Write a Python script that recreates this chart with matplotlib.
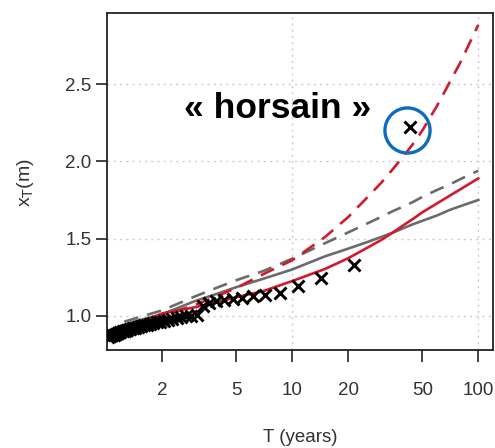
import matplotlib
matplotlib.use("Agg")
import matplotlib.pyplot as plt
import matplotlib.transforms as mtransforms

# ---- data ----
obs_T = [42.8, 21.5, 14.3, 10.75, 8.6, 7.17, 6.14, 5.38, 4.78, 4.3, 3.91, 3.58,
         3.31, 3.07, 2.87, 2.69, 2.53, 2.39, 2.26, 2.15, 2.05, 1.95, 1.87, 1.79,
         1.72, 1.65, 1.59, 1.54, 1.48, 1.43, 1.39, 1.34, 1.30, 1.26, 1.23, 1.19,
         1.16, 1.13, 1.10, 1.075, 1.05, 1.024]
obs_x = [2.22, 1.33, 1.245, 1.19, 1.148, 1.134, 1.125, 1.117, 1.11, 1.104, 1.097, 1.085,
         1.06, 1.005, 1.0, 0.998, 0.995, 0.985, 0.978, 0.972, 0.967, 0.962, 0.957, 0.952,
         0.947, 0.942, 0.937, 0.933, 0.928, 0.923, 0.918, 0.913, 0.908, 0.903, 0.898, 0.893,
         0.888, 0.883, 0.878, 0.873, 0.868, 0.86]

curve_T = [1.01, 1.2, 1.5, 2, 3, 4, 5, 7, 10, 15, 20, 25, 30, 35, 40, 45, 50, 60, 70, 80, 100]
red_dashed = [0.86, 0.91, 0.95, 1.00, 1.07, 1.13, 1.18, 1.27, 1.36, 1.51, 1.64, 1.76, 1.86,
              1.955, 2.04, 2.12, 2.20, 2.36, 2.51, 2.64, 2.885]
red_solid = [0.86, 0.91, 0.95, 1.015, 1.055, 1.09, 1.12, 1.16, 1.225, 1.303, 1.373, 1.437, 1.49,
             1.542, 1.59, 1.631, 1.67, 1.728, 1.777, 1.819, 1.89]
grey_dashed = [0.86, 0.955, 0.99, 1.035, 1.125, 1.185, 1.23, 1.29, 1.37, 1.47, 1.54, 1.595,
               1.64, 1.68, 1.71, 1.74, 1.77, 1.815, 1.85, 1.885, 1.94]
grey_solid = [0.87, 0.935, 0.97, 1.01, 1.095, 1.145, 1.185, 1.24, 1.30, 1.385, 1.435, 1.475,
              1.51, 1.54, 1.57, 1.595, 1.615, 1.65, 1.685, 1.71, 1.75]

x_ticks = [2, 5, 10, 20, 50, 100]
x_tick_labels = ["2", "5", "10", "20", "50", "100"]
y_ticks = [1.0, 1.5, 2.0, 2.5]
y_tick_labels = ["1.0", "1.5", "2.0", "2.5"]

outlier_T = 42.8
outlier_x = 2.22

# ---- figure ----
plt.rcParams['font.family'] = ['Liberation Sans', 'DejaVu Sans']
W, H = 495, 448
fig = plt.figure(figsize=(W / 100, H / 100), dpi=100)
ax = fig.add_axes([107 / W, 1 - 350 / H, (493 - 107) / W, (350 - 13) / H])

ax.set_xscale('log')
ax.set_xlim(1.01, 120)
ax.set_ylim(0.778, 2.962)

# grid
for g in [10, 100]:
    ax.axvline(g, color='#cccccc', lw=1.0, ls=(0, (1.5, 3)), zorder=0)
for g in y_ticks:
    ax.axhline(g, color='#cccccc', lw=1.0, ls=(0, (1.5, 3)), zorder=0)

red = '#d01a2e'
grey = '#6b6b6b'
dash = (0, (5.5, 3.5))
ax.plot(curve_T, grey_solid, color=grey, lw=1.9, zorder=2)
ax.plot(curve_T, grey_dashed, color=grey, lw=1.9, ls=dash, zorder=2)
ax.plot(curve_T, red_solid, color=red, lw=1.9, zorder=3)
ax.plot(curve_T, red_dashed, color=red, lw=1.9, ls=dash, zorder=3)

ax.plot(obs_T, obs_x, ls='none', marker='x', ms=8.5, mew=2.1, color='black', zorder=4)

# circle around outlier
off = mtransforms.ScaledTranslation(-2.6 / 100, -2.7 / 100, fig.dpi_scale_trans)
ax.plot([outlier_T], [outlier_x], ls='none', marker='o', ms=32.5, mfc='none',
        mec='#0f6cbd', mew=2.4, transform=ax.transData + off, zorder=5)

ax.text(0.443, 0.688, "« horsain »", transform=ax.transAxes, ha='center',
        va='baseline', fontsize=25.5, fontweight='bold', color='black')

# axes styling
ax.xaxis.set_minor_locator(matplotlib.ticker.NullLocator())
ax.set_xticks(x_ticks)
ax.set_xticklabels(x_tick_labels)
ax.set_yticks(y_ticks)
ax.set_yticklabels(y_tick_labels)
ax.tick_params(axis='x', which='major', length=8.5, width=1.2, pad=14.5,
               labelsize=13.5, colors='#222222', labelcolor='#333333')
ax.tick_params(axis='y', which='major', length=8, width=1.2, pad=3,
               labelsize=13.5, colors='#222222', labelcolor='#333333')
for s in ax.spines.values():
    s.set_linewidth(1.3)
    s.set_color('#222222')

ax.set_xlabel("T (years)", fontsize=13.5, color='#333333')
ax.xaxis.set_label_coords(0.5, -0.261)
ax.xaxis.label.set_va('center')
ax.set_ylabel(r"x$_\mathrm{T}$(m)", fontsize=14, color='#333333')
ax.yaxis.set_label_coords(-0.212, 0.498)
ax.yaxis.label.set_va('center')

fig.savefig("out.png", dpi=100)
